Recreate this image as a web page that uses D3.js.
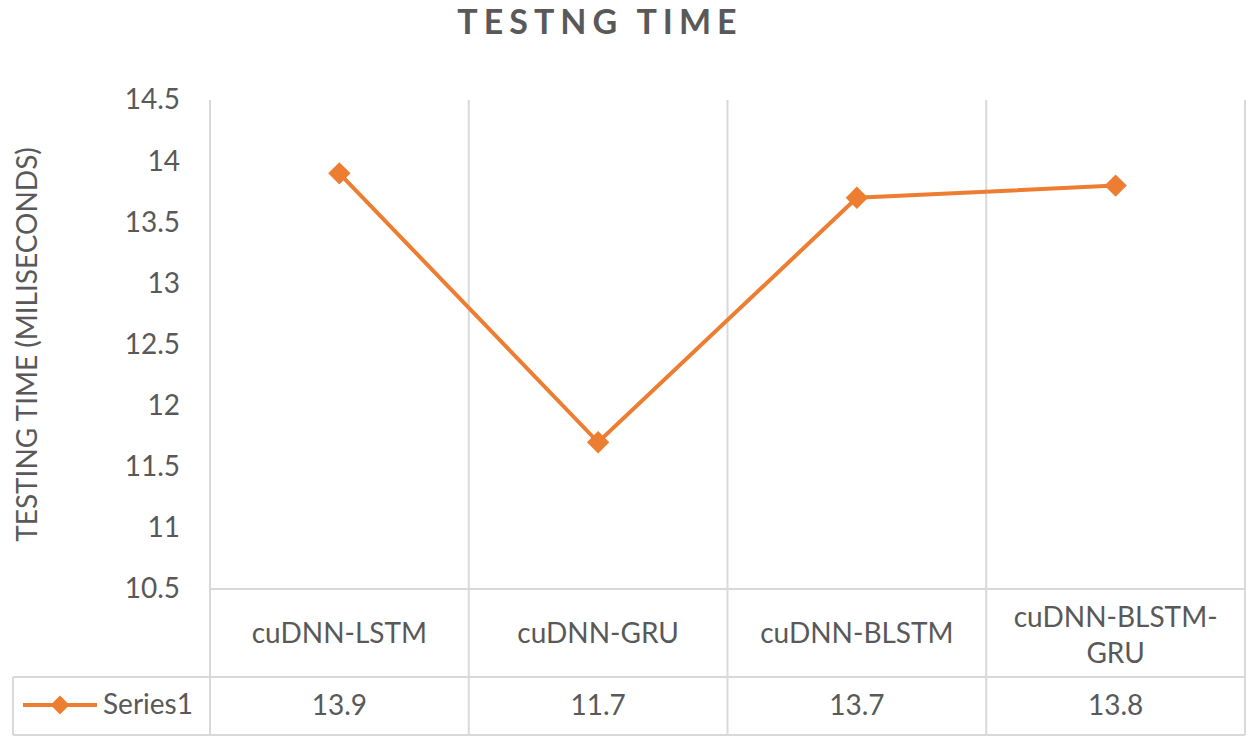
<!DOCTYPE html>
<html>
<head>
<meta charset="utf-8">
<script src="https://cdn.jsdelivr.net/npm/d3@7"></script>
<style>
  body { margin: 0; background: #fff; }
  text { font-family: Lato, "Open Sans", sans-serif; fill: #595959; }
</style>
</head>
<body>
<div class="graph"></div>
<script>
const categories = [["cuDNN-LSTM"], ["cuDNN-GRU"], ["cuDNN-BLSTM"], ["cuDNN-BLSTM-", "GRU"]];
const seriesName = "Series1";
const values = [13.9, 11.7, 13.7, 13.8];
const yTicks = [10.5, 11, 11.5, 12, 12.5, 13, 13.5, 14, 14.5];

const w = 1250, h = 740;
const plotLeft = 210, plotRight = 1245, plotTop = 100, plotBottom = 589;
const rowMid = 677, tableBottom = 735, tableLeft = 13;
const orange = "#ED7D31", grid = "#d9d9d9";
const fs = "28px";

const svg = d3.select(".graph").append("svg")
  .attr("width", w).attr("height", h);

const xScale = d3.scaleBand()
  .domain(d3.range(categories.length))
  .range([plotLeft, plotRight]);

const yScale = d3.scaleLinear()
  .domain([10.5, 14.5])
  .range([plotBottom, plotTop]);

// vertical separators, run through the data table
const seps = d3.range(categories.length + 1).map(i => i < categories.length ? xScale(i) : plotRight);
svg.selectAll("line.sep").data(seps).enter().append("line")
  .attr("x1", d => d).attr("x2", d => d)
  .attr("y1", plotTop).attr("y2", tableBottom)
  .attr("stroke", grid).attr("stroke-width", 2);

// table horizontal lines
svg.append("line").attr("x1", plotLeft).attr("x2", plotRight).attr("y1", plotBottom).attr("y2", plotBottom)
  .attr("stroke", grid).attr("stroke-width", 2);
[rowMid, tableBottom].forEach(y => {
  svg.append("line").attr("x1", tableLeft).attr("x2", plotRight).attr("y1", y).attr("y2", y)
    .attr("stroke", grid).attr("stroke-width", 2);
});
svg.append("line").attr("x1", tableLeft).attr("x2", tableLeft).attr("y1", rowMid).attr("y2", tableBottom)
  .attr("stroke", grid).attr("stroke-width", 2);

// y axis ticks
const yAxis = d3.axisLeft(yScale).tickValues(yTicks).tickSize(0).tickPadding(0)
  .tickFormat(d => d3.format("")(d));
const gy = svg.append("g").attr("transform", `translate(${plotLeft - 30},0)`).call(yAxis);
gy.select(".domain").remove();
gy.selectAll("text").style("font-size", fs).attr("fill", "#595959")
  .style("font-family", "Lato, 'Open Sans', sans-serif");

// line + markers
const cx = i => xScale(i) + xScale.bandwidth() / 2;
const line = d3.line().x((d, i) => cx(i)).y(d => yScale(d));
svg.append("path").datum(values)
  .attr("d", line).attr("fill", "none")
  .attr("stroke", orange).attr("stroke-width", 4);

const diamond = d3.symbol().type(d3.symbolSquare).size(250);
svg.selectAll("path.mk").data(values).enter().append("path")
  .attr("d", diamond)
  .attr("transform", (d, i) => `translate(${cx(i)},${yScale(d)}) rotate(45)`)
  .attr("fill", orange);

// category labels in table
categories.forEach((lines, i) => {
  const t = svg.append("text")
    .attr("x", cx(i)).attr("text-anchor", "middle")
    .style("font-size", fs);
  const startY = lines.length === 1 ? 643 : 627;
  lines.forEach((s, j) => t.append("tspan").attr("x", cx(i)).attr("y", startY + j * 36).text(s));
});

// value row
svg.selectAll("text.val").data(values).enter().append("text")
  .attr("x", (d, i) => cx(i)).attr("y", 715)
  .attr("text-anchor", "middle")
  .style("font-size", fs)
  .text(d => d3.format(".1f")(d));

// legend key in table
svg.append("line").attr("x1", 23).attr("x2", 97).attr("y1", 705).attr("y2", 705)
  .attr("stroke", orange).attr("stroke-width", 4);
svg.append("path").attr("d", d3.symbol().type(d3.symbolSquare).size(180))
  .attr("transform", "translate(60,705) rotate(45)").attr("fill", orange);
svg.append("text").attr("x", 103).attr("y", 714).style("font-size", fs).text(seriesName);

// title
svg.append("text").attr("x", 600).attr("y", 34).attr("text-anchor", "middle")
  .style("font-size", "34px").style("font-weight", "bold").style("letter-spacing", "6px")
  .text("TESTNG TIME");

// y axis title
svg.append("text").attr("transform", "rotate(-90)")
  .attr("x", -(plotTop + plotBottom) / 2).attr("y", 37)
  .attr("text-anchor", "middle").style("font-size", fs)
  .text("TESTING TIME (MILISECONDS)");
</script>
</body>
</html>
